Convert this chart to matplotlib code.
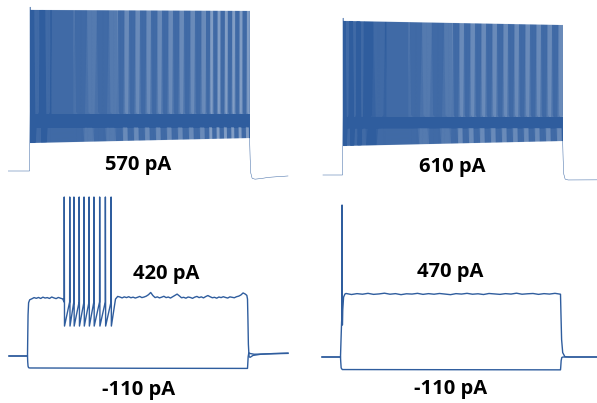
import numpy as np
import matplotlib.pyplot as plt

# current step timing (ms) and resting potential (mV)
step_on = 100
step_off = 1100
rest = -70.0

# ---- 570 pA sweep (top left) ----
tl_rate_hz = [240, 222, 212, 206, 202, 199, 197, 195, 194, 193]
tl_peak = [42.3, 40.3, 39.6]        # first spike, early, late
tl_trough = [-50.8, -47.4]          # early, late
tl_band = [-40.0, -29.6]            # interspike band: low edge, threshold
tl_post_t = [1100, 1103, 1106, 1112, 1125, 1150, 1190, 1230, 1275]
tl_post_v = [-45.0, -62.0, -71.5, -75.0, -75.6, -75.2, -74.3, -73.9, -73.4]

# ---- 610 pA sweep (top right) ----
tr_rate_hz = [248, 230, 220, 213, 208, 205, 203, 201, 199, 198]
tr_peak = [37.5, 35.5, 32.7]
tr_trough = [-50.1, -46.7]
tr_band = [-37.8, -28.9]
tr_post_t = [1100, 1103, 1106, 1112, 1125, 1160, 1300]
tr_post_v = [-42.0, -60.0, -69.5, -72.8, -73.4, -73.4, -73.3]

# ---- 420 pA / -110 pA sweeps (bottom left) ----
bl_spikes = [267, 292, 311, 335, 357, 380, 402, 428, 454, 480]
bl_spike_peak = 38.9
bl_spike_trough = -49.5
bl_thresh = -33.0
bl_rise_t = [16, 100, 101, 102.5, 105, 110]
bl_rise_v = [-70.0, -70.0, -58.0, -42.0, -33.5, -31.5]
bl_pre_t = list(range(120, 261, 10))
bl_pre_v = [-30.8, -30.0, -30.5, -29.9, -30.6, -29.7, -30.3, -30.0,
            -30.6, -29.6, -30.2, -30.7, -29.9, -30.4, -30.9]
bl_plat_t = list(range(500, 1091, 10))
bl_plat_v = [-31.0, -29.2, -29.6, -30.2, -29.5, -30.0, -29.4, -30.1, -29.7, -30.3,
             -29.8, -29.2, -30.0, -29.6, -29.0, -28.0, -26.5, -28.6, -30.0, -29.5,
             -30.2, -29.7, -29.1, -30.0, -29.6, -30.3, -29.4, -28.5, -27.6, -28.8,
             -30.1, -29.8, -30.4, -29.6, -29.9, -30.5, -29.7, -29.2, -30.0, -29.5,
             -30.2, -29.3, -28.6, -29.4, -30.1, -29.8, -30.4, -29.6, -30.0, -29.4,
             -29.9, -30.3, -29.5, -29.8, -30.1, -29.4, -29.0, -28.2, -26.8, -27.6]
bl_fall_t = [1097, 1100, 1102, 1104, 1107, 1112, 1125, 1160, 1220, 1284]
bl_fall_v = [-28.5, -31.0, -45.0, -62.0, -70.5, -70.9, -69.6, -68.8, -68.3, -68.0]
bl_neg_t = [16, 100, 101, 102.5, 105, 110, 600, 1100, 1101, 1103, 1106, 1112, 1130, 1284]
bl_neg_v = [-70.0, -70.0, -74.0, -77.0, -78.0, -78.2, -78.4, -78.5,
            -76.0, -70.5, -67.8, -68.3, -68.8, -68.2]

# ---- 470 pA / -110 pA sweeps (bottom right) ----
br_spike_t = [16, 100, 102, 105, 106.5, 107.0, 107.6, 108.6, 110, 114, 120]
br_spike_v = [-70.0, -70.0, -60.0, -46.0, -42.0, 34.1, 0.0, -48.1, -38.0, -29.0, -26.9]
br_plat_t = list(range(125, 1100, 25))
br_plat_v = [-26.5, -27.2, -26.6, -27.0, -26.4, -27.1, -26.8, -26.3, -27.0, -26.6,
             -27.3, -26.7, -26.9, -26.4, -27.1, -26.6, -27.0, -26.5, -26.9, -27.3,
             -26.6, -26.9, -26.4, -27.0, -26.7, -27.2, -26.5, -26.8, -27.1, -26.6,
             -26.9, -26.3, -27.0, -26.7, -26.5, -27.1, -26.6, -26.9, -26.4]
br_fall_t = [1100, 1102, 1105, 1110, 1120, 1140, 1300]
br_fall_v = [-27.0, -40.0, -58.0, -67.0, -69.8, -70.0, -70.0]
br_neg_t = [16, 100, 101, 103, 108, 1100, 1101, 1103, 1106, 1112, 1300]
br_neg_v = [-70.0, -70.0, -73.0, -77.5, -78.6, -78.8, -77.0, -72.5, -70.3, -70.0, -70.0]

labels = {
    'tl': [('570 pA', 593, -69.3)],
    'tr': [('610 pA', 600, -67.9)],
    'bl': [('420 pA', 730, -17.3), ('-110 pA', 605, -96.7)],
    'br': [('470 pA', 598, -15.2), ('-110 pA', 600, -95.3)],
}

color = '#2F5D9E'
W, H = 597, 403
px_ms, px_mv = 0.22, 1.46
t_span = (0, 1300)
v_span = (-100, 55)

fig = plt.figure(figsize=(W / 100, H / 100), dpi=100)


def panel(x0, y_rest):
    # x0: pixel of t=0, y_rest: pixel row of the resting potential
    top = y_rest - (v_span[1] - rest) * px_mv
    bot = y_rest + (rest - v_span[0]) * px_mv
    ax = fig.add_axes([x0 / W, 1 - bot / H,
                       (t_span[1] - t_span[0]) * px_ms / W, (bot - top) / H])
    ax.set_xlim(*t_span)
    ax.set_ylim(*v_span)
    ax.axis('off')
    return ax


def train_times(rates):
    times = []
    for i, r in enumerate(rates):
        n = int(round(r * 0.1))
        t0 = step_on + 100 * i
        times.extend(t0 + (np.arange(n) + 0.6) * 100.0 / n)
    return np.array(times)


def dense_sweep(rates, peaks, troughs, band, post_t, post_v, t_start):
    times = train_times(rates)
    frac = (times - times[0]) / (times[-1] - times[0])
    pk = peaks[1] + (peaks[2] - peaks[1]) * frac
    pk[0] = peaks[0]
    tr = troughs[0] + (troughs[1] - troughs[0]) * frac
    lo, thr = band
    t = [t_start, step_on]
    v = [rest, rest]
    for i, ts in enumerate(times):
        # upstroke, AHP, fast recovery, small dip, ramp to next threshold
        t += [ts, ts + 0.3, ts + 0.9, ts + 1.5, ts + 2.4]
        v += [thr, pk[i], tr[i], thr - 1.5, lo]
    return t + post_t, v + post_v


def spike_run(times, peak, trough, thresh):
    t, v = [], []
    for ts in times:
        t += [ts - 0.5, ts, ts + 1.2]
        v += [thresh, peak, trough]
    return t, v


# top left
ax = panel(7.5, 171)
t, v = dense_sweep(tl_rate_hz, tl_peak, tl_trough, tl_band, tl_post_t, tl_post_v, 0)
ax.plot(t, v, color=color, lw=0.33)

# top right
ax = panel(320.5, 175)
t, v = dense_sweep(tr_rate_hz, tr_peak, tr_trough, tr_band, tr_post_t, tr_post_v, 11)
ax.plot(t, v, color=color, lw=0.33)

# bottom left
ax = panel(5.5, 356)
st, sv = spike_run(bl_spikes, bl_spike_peak, bl_spike_trough, bl_thresh)
t = bl_rise_t + bl_pre_t + st + bl_plat_t + bl_fall_t
v = bl_rise_v + bl_pre_v + sv + bl_plat_v + bl_fall_v
ax.plot(t, v, color=color, lw=1.0)
ax.plot(bl_neg_t, bl_neg_v, color=color, lw=1.0)

# bottom right
ax = panel(318.5, 357)
ax.plot(br_spike_t + br_plat_t + br_fall_t, br_spike_v + br_plat_v + br_fall_v,
        color=color, lw=1.0)
ax.plot(br_neg_t, br_neg_v, color=color, lw=1.0)

axes = dict(zip(['tl', 'tr', 'bl', 'br'], fig.axes))
for key, items in labels.items():
    for text, tx, ty in items:
        axes[key].text(tx, ty, text, ha='center', va='baseline',
                       fontsize=14.5, fontweight='bold', family='Open Sans',
                       color='black', clip_on=False)

fig.savefig('out.png', dpi=100, facecolor='white')
